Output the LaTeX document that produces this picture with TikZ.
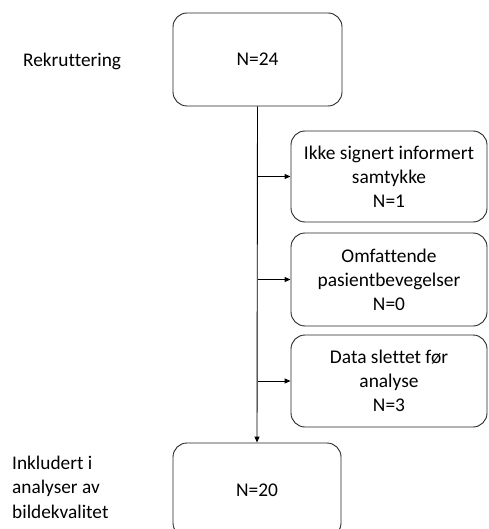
\documentclass[tikz,border=0pt]{standalone}
\usepackage{fontspec}
\setmainfont{Carlito}[Ligatures={NoCommon}]
\usetikzlibrary{arrows.meta}
\begin{document}
\begin{tikzpicture}[x=1pt,y=-1pt,
  box/.style={draw=black!85, line width=0.9pt, rounded corners=14pt, align=center, inner sep=0pt},
  lbl/.style={font=\fontsize{19.4}{24}\selectfont, align=center},
  side/.style={font=\fontsize{19.3}{24.5}\selectfont, align=left, anchor=west, inner sep=0pt},
  conn/.style={line width=0.9pt, -{Triangle[length=6pt,width=5pt]}}]
\useasboundingbox (0,0) rectangle (488,529);
\begin{scope}
\clip (0,0) rectangle (488,529);
\node[box, minimum width=169pt, minimum height=93pt] (top) at (257.5,59.5) {};
\node[lbl] at (top.center) {N=24};
\node[box, minimum width=196pt, minimum height=91pt] (b1) at (389,176.5) {};
\node[lbl] at (b1.center) {Ikke signert informert\\samtykke\\N=1};
\node[box, minimum width=196pt, minimum height=93pt] (b2) at (389,279.5) {};
\node[lbl] at (b2.center) {Omfattende\\pasientbevegelser\\N=0};
\node[box, minimum width=196pt, minimum height=92pt] (b3) at (389,381) {};
\node[lbl] at (b3.center) {Data slettet før\\analyse\\N=3};
\node[box, minimum width=168pt, minimum height=94pt] (bot) at (257,490) {};
\node[lbl] at (bot.center) {N=20};
\end{scope}
\node[side] (rek) at (23,61) {Rekruttering};
\node[side] (ink) at (12,487) {Inkludert i\\analyser av\\bildekvalitet};
\draw[conn] (top.south) -- (bot.north);
\coordinate (j1) at (top.south |- b1.west);
\coordinate (j2) at (top.south |- b2.west);
\coordinate (j3) at (top.south |- b3.west);
\draw[conn] (j1) -- (b1.west);
\draw[conn] (j2) -- (b2.west);
\draw[conn] (j3) -- (b3.west);
\end{tikzpicture}
\end{document}
